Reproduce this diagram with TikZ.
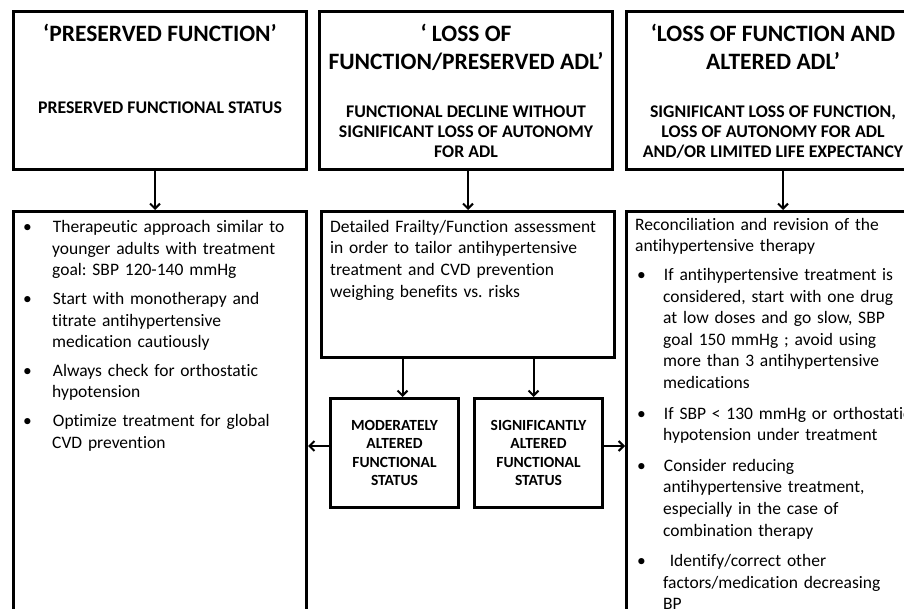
\documentclass[tikz,border=0pt]{standalone}
\usepackage{fontspec}
\setmainfont{Carlito}[Ligatures=NoCommon]
\usepackage{enumitem}
\usetikzlibrary{positioning,arrows.meta}

\newcommand{\hdfont}{\fontsize{23.5}{27.5}\selectfont\bfseries}
\newcommand{\subhdfont}{\fontsize{17.8}{20}\selectfont\bfseries}
\newcommand{\txtfont}{\fontsize{17.5}{21.6}\selectfont\frenchspacing}
\newcommand{\tagfont}{\fontsize{15.5}{18.5}\selectfont\bfseries}
\setlist[itemize]{label=\textbullet,align=left,labelwidth=8pt,topsep=0pt,partopsep=0pt,parsep=0pt}

\begin{document}
\begin{tikzpicture}[x=1pt,y=-1pt,
    stagebox/.style={draw,line width=3pt,minimum width=293pt,inner sep=0pt,anchor=north west},
    tagbox/.style={draw,line width=3pt,minimum width=128pt,minimum height=109pt,inner sep=0pt,align=center,font=\tagfont,anchor=north west},
    headtxt/.style={anchor=north,align=center,inner sep=0pt,font=\hdfont},
    subtxt/.style={anchor=north,align=center,inner sep=0pt,font=\subhdfont},
    bodytxt/.style={anchor=north west,align=left,inner sep=0pt,font=\txtfont},
    conn/.style={line width=2pt,-{Straight Barb[length=5pt,width=10pt]}}]
    \useasboundingbox (0,0) rectangle (904,609);
    \clip (0,0) rectangle (904,609);
    % top row
    \node[stagebox,minimum height=158pt] (pf) at (12,10) {};
    \node[stagebox,minimum height=158pt] (lf) at (318,10) {};
    \node[stagebox,minimum height=158pt] (la) at (625,10) {};
    \node[headtxt] (pfh) at ([yshift=-14pt]pf.north) {‘PRESERVED FUNCTION’};
    \node[subtxt] (pfs) at ([yshift=-92pt]pf.north) {PRESERVED FUNCTIONAL STATUS};
    \node[headtxt] (lfh) at ([yshift=-14pt]lf.north) {‘ LOSS OF\\FUNCTION/PRESERVED ADL’};
    \node[subtxt] (lfs) at ([yshift=-96pt]lf.north) {FUNCTIONAL DECLINE WITHOUT\\SIGNIFICANT LOSS OF AUTONOMY\\FOR ADL};
    \node[headtxt] (lah) at ([yshift=-14pt]la.north) {‘LOSS OF FUNCTION AND\\ALTERED ADL’};
    \node[subtxt] (las) at ([yshift=-96pt]la.north) {SIGNIFICANT LOSS OF FUNCTION,\\LOSS OF AUTONOMY FOR ADL\\AND/OR LIMITED LIFE EXPECTANCY};
    % bottom row
    \node[stagebox,minimum height=430pt] (pt) at (12,210) {};
    \node[stagebox,minimum height=146pt] (lt) at (320,210) {};
    \node[stagebox,minimum height=430pt] (at) at (625,210) {};
    \node[tagbox] (ma) at (329,397) {MODERATELY\\ALTERED\\FUNCTIONAL\\STATUS};
    \node[tagbox] (sa) at (473,397) {SIGNIFICANTLY\\ALTERED\\FUNCTIONAL\\STATUS};
    % texts
    \node[bodytxt,text width=285pt] (ptx) at (18,211) {%
        \begin{itemize}[leftmargin=34pt,labelsep=21pt,itemsep=7pt]
        \item Therapeutic approach similar to\\younger adults with treatment\\goal: SBP 120-140 mmHg
        \item Start with monotherapy and\\titrate antihypertensive\\medication cautiously
        \item Always check for orthostatic\\hypotension
        \item Optimize treatment for global\\CVD prevention
        \end{itemize}};
    \node[bodytxt,text width=280pt] (ltx) at (330,220) {Detailed Frailty/Function assessment\\in order to tailor antihypertensive\\treatment and CVD prevention\\weighing benefits vs. risks};
    \node[bodytxt,text width=283pt] (atx) at (635,218) {%
        Reconciliation and revision of the\\antihypertensive therapy
        \begin{itemize}[leftmargin=28pt,labelsep=18pt,topsep=7pt,itemsep=9pt]
        \item If antihypertensive treatment is\\considered, start with one drug\\at low doses and go slow, SBP\\goal 150 mmHg ; avoid using\\more than 3 antihypertensive\\medications
        \item If SBP < 130 mmHg or orthostatic\\hypotension under treatment
        \item Consider reducing\\antihypertensive treatment,\\especially in the case of\\combination therapy
        \item \ Identify/correct other\\factors/medication decreasing\\BP
        \end{itemize}};
    % arrows
    \draw[conn] ([xshift=-5pt]pf.south) -- ([xshift=-5pt]pf.south |- pt.north);
    \draw[conn] ([xshift=2pt]lf.south) -- ([xshift=2pt]lf.south |- lt.north);
    \draw[conn] ([xshift=10pt]la.south) -- ([xshift=10pt]la.south |- at.north);
    \draw[conn] ([xshift=8pt]lt.south -| ma.north) -- ([xshift=8pt]ma.north);
    \draw[conn] ([xshift=-5pt]lt.south -| sa.north) -- ([xshift=-5pt]sa.north);
    \draw[conn] ([yshift=7pt]ma.west) -- ([yshift=7pt]ma.west -| pt.east);
    \draw[conn] ([yshift=7pt]sa.east) -- ([yshift=7pt]sa.east -| at.west);
\end{tikzpicture}
\end{document}
